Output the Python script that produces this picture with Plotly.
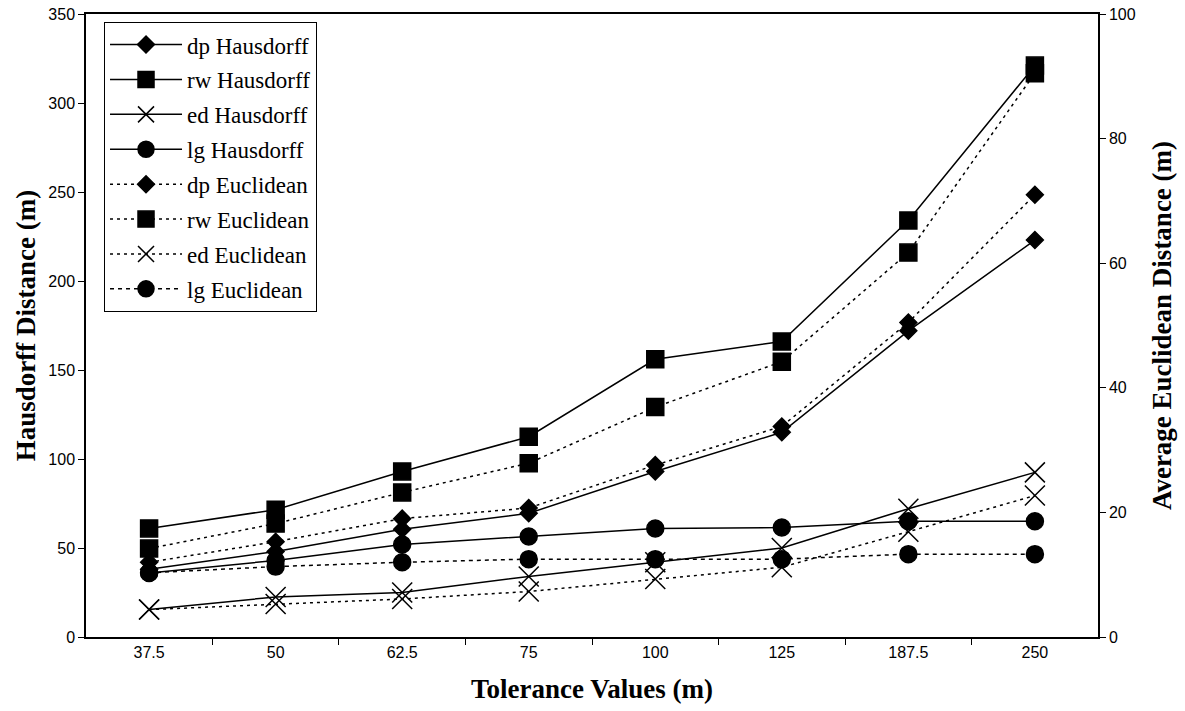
import plotly.graph_objects as go

tolerance = ["37.5", "50", "62.5", "75", "100", "125", "187.5", "250"]

dp_hausdorff = [38, 48, 60.5, 69.5, 93, 115, 172, 223]
rw_hausdorff = [61, 71.5, 93, 112.5, 156, 166, 234, 321]
ed_hausdorff = [15.5, 22.5, 25, 34, 42, 50, 72, 92.5]
lg_hausdorff = [36, 43, 52, 56.5, 61, 61.5, 65, 65]

dp_euclidean = [12, 15.3, 19, 20.7, 27.6, 33.8, 50.5, 71]
rw_euclidean = [14.2, 18.2, 23.2, 27.9, 36.9, 44.2, 61.7, 90.5]
ed_euclidean = [4.4, 5.3, 6.1, 7.3, 9.3, 11.2, 16.9, 22.7]
lg_euclidean = [10.3, 11.3, 12, 12.5, 12.5, 12.5, 13.3, 13.3]

series = [
    ("dp Hausdorff", dp_hausdorff, "y", "diamond", 13, "solid"),
    ("rw Hausdorff", rw_hausdorff, "y", "square", 17, "solid"),
    ("ed Hausdorff", ed_hausdorff, "y", "x-thin-open", 20, "solid"),
    ("lg Hausdorff", lg_hausdorff, "y", "circle", 17, "solid"),
    ("dp Euclidean", dp_euclidean, "y2", "diamond", 13, "3px,4px"),
    ("rw Euclidean", rw_euclidean, "y2", "square", 17, "3px,4px"),
    ("ed Euclidean", ed_euclidean, "y2", "x-thin-open", 20, "3px,4px"),
    ("lg Euclidean", lg_euclidean, "y2", "circle", 17, "4px,4px"),
]

fig = go.Figure()
for name, vals, yax, sym, size, dash in series:
    fig.add_trace(go.Scatter(
        x=tolerance, y=vals, name=name, yaxis=yax, legendgroup=name,
        mode="lines+markers",
        line=dict(color="black", width=1.5, dash=dash),
        marker=dict(symbol=sym, size=size, color="black",
                    line=dict(color="black", width=1.5)),
    ))

tickfont = dict(family="Liberation Sans, Arial", size=16, color="black")
titlefont = dict(family="Liberation Serif, Times New Roman", size=27, color="black")

fig.update_layout(
    width=1185, height=711,
    margin=dict(l=86, r=87, t=14, b=74),
    paper_bgcolor="white", plot_bgcolor="white",
    showlegend=True,
    legend=dict(
        x=0.0178, y=0.987, xanchor="left", yanchor="top",
        bgcolor="white", bordercolor="black", borderwidth=1,
        font=dict(family="Liberation Serif, Times New Roman", size=23, color="black"),
        traceorder="grouped", tracegroupgap=2, itemwidth=72,
    ),
    xaxis=dict(
        type="category", tickson="boundaries", ticks="outside", ticklen=6,
        tickcolor="black", showline=True, linecolor="black", linewidth=1.5,
        mirror=True, showgrid=False, zeroline=False, tickfont=tickfont,
        automargin=False, ticklabeloverflow="allow",
        title=dict(text="<b>Tolerance Values (m)</b>", font=titlefont, standoff=19),
    ),
    yaxis=dict(
        range=[0, 350], dtick=50, ticks="outside", ticklen=6, tickcolor="black",
        showline=True, linecolor="black", linewidth=1.5, showgrid=False,
        zeroline=False, tickfont=tickfont, automargin=False,
        ticklabeloverflow="allow",
        title=dict(text="<b>Hausdorff Distance (m)</b>", font=titlefont, standoff=5),
    ),
    yaxis2=dict(
        range=[0, 100], dtick=20, ticks="outside", ticklen=6, tickcolor="black",
        overlaying="y", side="right", showline=True, linecolor="black",
        linewidth=1.5, showgrid=False, zeroline=False, tickfont=tickfont,
        automargin=False, ticklabeloverflow="allow",
        title=dict(text="<b>Average Euclidean Distance (m)</b>", font=titlefont, standoff=17),
    ),
)

fig.write_html("out.html", config={"displayModeBar": False},
               post_script="document.body.style.margin='0';")
